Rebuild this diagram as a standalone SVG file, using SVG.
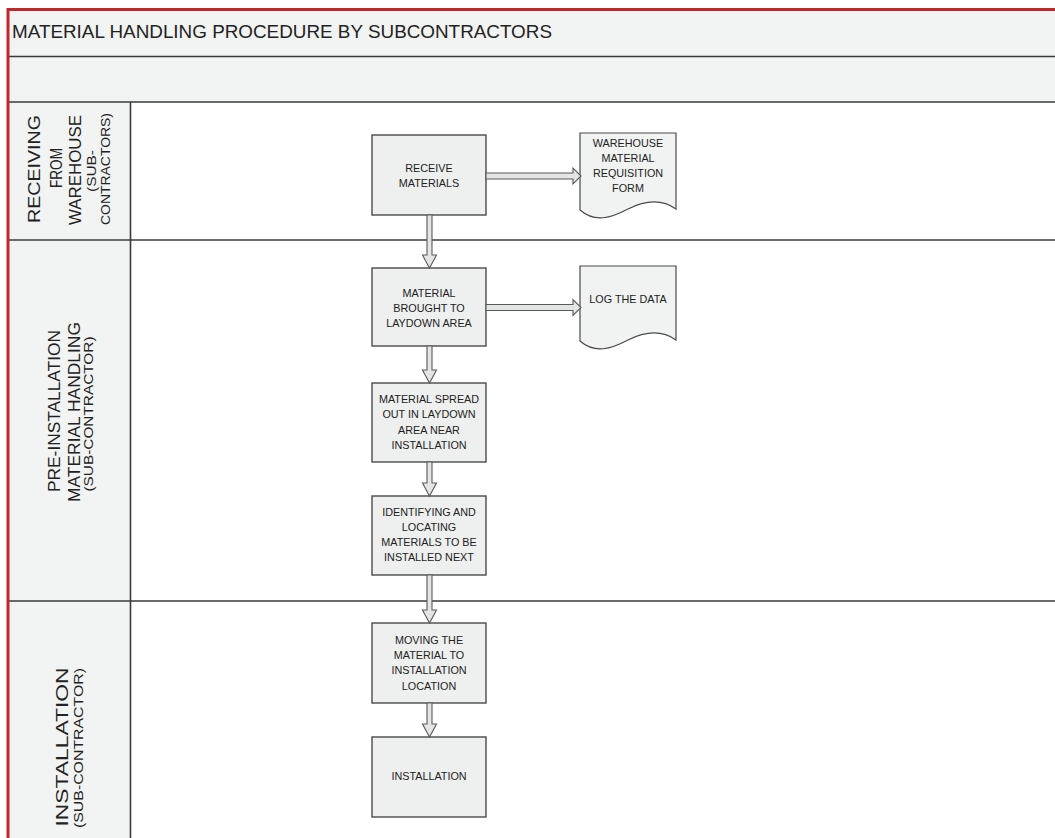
<svg xmlns="http://www.w3.org/2000/svg" width="1055" height="838" viewBox="0 0 1055 838">
  <style>
    .band { fill: #f2f3f3; }
    .lane-line { stroke: #3a3a3a; stroke-width: 1.6; fill: none; }
    .frame { stroke: #c1272d; stroke-width: 3; fill: none; }
    .box { fill: #eeefef; stroke: #4a4a4a; stroke-width: 1.4; }
    .doc { fill: #f1f2f2; stroke: #4a4a4a; stroke-width: 1.2; }
    .arrow { fill: #e4e5e5; stroke: #5a5a5a; stroke-width: 1.1; stroke-linejoin: miter; }
    .t { font-family: "Liberation Sans", Arial, sans-serif; fill: #222; }
    .title { font-size: 19px; }
    .lane-big { font-size: 17px; text-anchor: middle; }
    .lane-small { font-size: 13px; text-anchor: middle; }
    .node { font-size: 10.8px; text-anchor: middle; }
  </style>

  <!-- background -->
  <rect x="0" y="0" width="1055" height="838" fill="#ffffff"/>

  <!-- header bands -->
  <rect class="band" x="9" y="10" width="1046" height="92"/>
  <!-- lane label column -->
  <rect class="band" x="9" y="102" width="121" height="736"/>

  <!-- grid lines -->
  <g id="grid">
    <line class="lane-line" x1="9" y1="56.5" x2="1055" y2="56.5"/>
    <line class="lane-line" x1="9" y1="102" x2="1055" y2="102"/>
    <line class="lane-line" x1="9" y1="240" x2="1055" y2="240"/>
    <line class="lane-line" x1="9" y1="601" x2="1055" y2="601"/>
    <line class="lane-line" x1="130.5" y1="102" x2="130.5" y2="838"/>
  </g>

  <!-- outer frame -->
  <path class="frame" d="M8,838 V9.5 H1055"/>

  <!-- title -->
  <text class="t title" x="12" y="38" textLength="540" lengthAdjust="spacingAndGlyphs">MATERIAL HANDLING PROCEDURE BY SUBCONTRACTORS</text>

  <!-- lane labels -->
  <g id="lane-receiving">
    <text class="t lane-big" transform="translate(40,169) rotate(-90)" textLength="108" lengthAdjust="spacingAndGlyphs">RECEIVING</text>
    <text class="t lane-big" transform="translate(62,168) rotate(-90)" textLength="40" lengthAdjust="spacingAndGlyphs">FROM</text>
    <text class="t lane-big" transform="translate(81,170) rotate(-90)" textLength="110" lengthAdjust="spacingAndGlyphs">WAREHOUSE</text>
    <text class="t lane-small" transform="translate(96,171) rotate(-90)" textLength="42" lengthAdjust="spacingAndGlyphs">(SUB-</text>
    <text class="t lane-small" transform="translate(110,169) rotate(-90)" textLength="112" lengthAdjust="spacingAndGlyphs">CONTRACTORS)</text>
  </g>
  <g id="lane-preinstallation">
    <text class="t lane-big" transform="translate(60,411) rotate(-90)" textLength="162" lengthAdjust="spacingAndGlyphs">PRE-INSTALLATION</text>
    <text class="t lane-big" transform="translate(80,412) rotate(-90)" textLength="180" lengthAdjust="spacingAndGlyphs">MATERIAL HANDLING</text>
    <text class="t lane-small" transform="translate(93,414) rotate(-90)" textLength="155" lengthAdjust="spacingAndGlyphs">(SUB-CONTRACTOR)</text>
  </g>
  <g id="lane-installation">
    <text class="t lane-big" transform="translate(68,747) rotate(-90)" textLength="159" lengthAdjust="spacingAndGlyphs">INSTALLATION</text>
    <text class="t lane-small" transform="translate(83,748) rotate(-90)" textLength="160" lengthAdjust="spacingAndGlyphs">(SUB-CONTRACTOR)</text>
  </g>

  <!-- process steps -->
  <g id="receive-materials">
    <rect class="box" x="372" y="135" width="114" height="80"/>
    <text class="t node" x="429" y="172">RECEIVE</text>
    <text class="t node" x="429" y="187">MATERIALS</text>
  </g>
  <g id="requisition-form">
    <path class="doc" d="M580,133 H676 V209 C662,199 646,200 628,209 C611,218 595,223 580,210 Z"/>
    <text class="t node" x="628" y="147">WAREHOUSE</text>
    <text class="t node" x="628" y="162">MATERIAL</text>
    <text class="t node" x="628" y="177">REQUISITION</text>
    <text class="t node" x="628" y="192">FORM</text>
  </g>
  <g id="laydown">
    <rect class="box" x="372" y="268" width="114" height="78"/>
    <text class="t node" x="429" y="297">MATERIAL</text>
    <text class="t node" x="429" y="312">BROUGHT TO</text>
    <text class="t node" x="429" y="327">LAYDOWN AREA</text>
  </g>
  <g id="log-data">
    <path class="doc" d="M580,266 H676 V340 C662,330 646,331 628,340 C611,349 595,354 580,341 Z"/>
    <text class="t node" x="628" y="303">LOG THE DATA</text>
  </g>
  <g id="spread-out">
    <rect class="box" x="372" y="383" width="114" height="79"/>
    <text class="t node" x="429" y="403">MATERIAL SPREAD</text>
    <text class="t node" x="429" y="418">OUT IN LAYDOWN</text>
    <text class="t node" x="429" y="434">AREA NEAR</text>
    <text class="t node" x="429" y="449">INSTALLATION</text>
  </g>
  <g id="identifying">
    <rect class="box" x="372" y="496" width="114" height="79"/>
    <text class="t node" x="429" y="516">IDENTIFYING AND</text>
    <text class="t node" x="429" y="531">LOCATING</text>
    <text class="t node" x="429" y="546">MATERIALS TO BE</text>
    <text class="t node" x="429" y="561">INSTALLED NEXT</text>
  </g>
  <g id="moving">
    <rect class="box" x="372" y="623" width="114" height="80"/>
    <text class="t node" x="429" y="644">MOVING THE</text>
    <text class="t node" x="429" y="659">MATERIAL TO</text>
    <text class="t node" x="429" y="674">INSTALLATION</text>
    <text class="t node" x="429" y="690">LOCATION</text>
  </g>
  <g id="installation">
    <rect class="box" x="372" y="737" width="114" height="80"/>
    <text class="t node" x="429" y="780">INSTALLATION</text>
  </g>

  <!-- connectors: hollow block arrows -->
  <g id="connectors">
    <path class="arrow" d="M427,215 V255 H422.5 L429.5,268 L436.5,255 H432 V215 Z"/>
    <path class="arrow" d="M427,346 V370 H422.5 L429.5,383 L436.5,370 H432 V346 Z"/>
    <path class="arrow" d="M427,462 V483 H422.5 L429.5,496 L436.5,483 H432 V462 Z"/>
    <path class="arrow" d="M427,575 V610 H422.5 L429.5,623 L436.5,610 H432 V575 Z"/>
    <path class="arrow" d="M427,703 V724 H422.5 L429.5,737 L436.5,724 H432 V703 Z"/>
    <path class="arrow" d="M486,173 H573 V168 L581,176 L573,184 V179 H486 Z"/>
    <path class="arrow" d="M486,304.5 H573 V299.5 L581,307.5 L573,315.5 V310.5 H486 Z"/>
  </g>
</svg>
